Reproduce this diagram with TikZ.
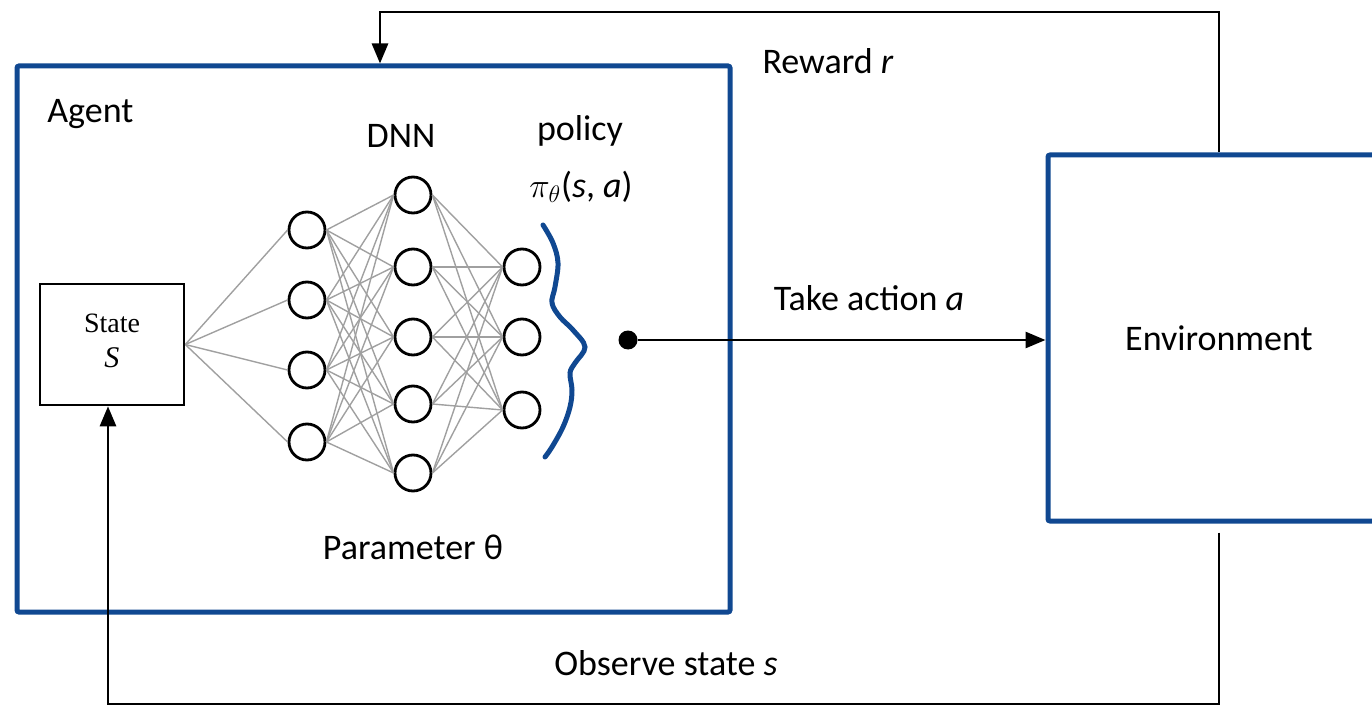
\documentclass[tikz,border=0pt]{standalone}
\usepackage{fontspec}
\setmainfont{Carlito}
\newfontfamily\serifst{Liberation Serif}
\usetikzlibrary{arrows.meta}
\definecolor{agblue}{RGB}{16,72,145}
\definecolor{edgegray}{RGB}{160,160,160}
\begin{document}
\begin{tikzpicture}[x=0.5pt,y=-0.5pt,
  font=\fontsize{18}{22}\selectfont,
  bluebox/.style={draw=agblue,line width=2.5pt,rectangle,inner sep=0pt,rounded corners=1pt},
  neuron/.style={circle,draw=black,line width=1.4pt,minimum size=18pt,inner sep=0pt},
  wire/.style={draw=edgegray,line width=0.7pt},
  conn/.style={draw=black,line width=1.4pt,-{Triangle[length=10pt,width=8pt]}},
  lbl/.style={inner sep=0pt}]
\useasboundingbox (0,0) rectangle (1372,706);
% boxes
\node[bluebox,minimum width=356.5pt,minimum height=273pt] (agent) at (373.5,339) {};
\node[bluebox,minimum width=171pt,minimum height=183pt] (env) at (1219,338) {Environment};
\node[draw,line width=1.3pt,minimum width=72pt,minimum height=60.5pt,inner sep=0pt] (state) at (112,344.5) {};
\node[lbl,font=\serifst\fontsize{14}{17}\selectfont] (statetxt) at (112,323) {State};
\node[lbl,font=\serifst\itshape\fontsize{15}{18}\selectfont] (statesym) at (112,358) {S};
% neurons
\foreach \i/\y in {1/230,2/300,3/370,4/442} \node[neuron] (a\i) at (307,\y) {};
\foreach \i/\y in {1/195,2/267,3/337,4/404,5/473} \node[neuron] (b\i) at (413,\y) {};
\foreach \i/\y in {1/267,2/337,3/410} \node[neuron] (c\i) at (522,\y) {};
% wires
\foreach \i in {1,...,4} \draw[wire] (state.east) -- (a\i.west);
\foreach \i in {1,...,4} \foreach \j in {1,...,5} \draw[wire] (a\i.east) -- (b\j.west);
\foreach \i in {1,...,5} \foreach \j in {1,...,3} \draw[wire] (b\i.east) -- (c\j.west);
% policy brace
\draw[agblue,line width=2.5pt,line cap=round] plot[smooth,tension=0.6] coordinates {(543,225) (553,243) (558,263) (555,287) (552,303) (560,317) (573,330) (585,347) (575,363) (570,373) (572,390) (570,407) (563,427) (552,447) (545,457)};
% labels
\node[lbl,anchor=west] (agentlbl) at (47,114) {Agent};
\node[lbl] (dnn) at (401,136) {DNN};
\node[lbl] (policy) at (580,131) {policy};
\node[lbl] (pi) at (581,187) {$\pi_{\theta}$(\textit{s}, \textit{a})};
\node[lbl] (param) at (413,547) {Parameter θ};
\node[lbl] (reward) at (828,61) {Reward \textit{r}};
\node[lbl] (action) at (869,298) {Take action \textit{a}};
\node[lbl] (observe) at (666,663) {Observe state \textit{s}};
% action
\node[circle,fill=black,inner sep=0pt,minimum size=9.5pt] (dot) at (628,340) {};
\draw[conn] (dot) -- (dot -| env.west);
% reward loop
\coordinate (rtop) at (380,12);
\draw[conn] (env.north) |- (rtop) -- (rtop |- agent.north);
% observation loop
\coordinate (obs) at (108,704);
\draw[conn,shorten <=4.5pt] (env.south) |- (obs) -- (obs |- state.south);
\end{tikzpicture}
\end{document}
